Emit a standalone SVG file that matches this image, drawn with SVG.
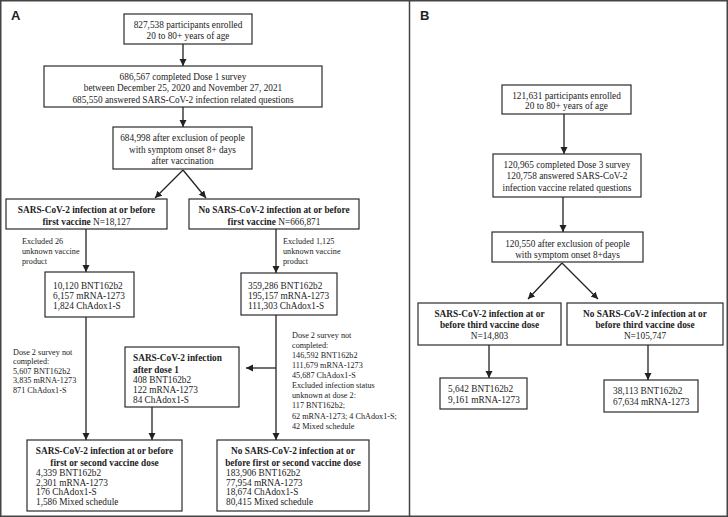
<svg xmlns="http://www.w3.org/2000/svg" width="728" height="517" viewBox="0 0 728 517">
<style>
.bx{fill:#fff;stroke:#2b2b2b;stroke-width:1.2}
.t{font-family:"Liberation Serif","Times New Roman",serif;font-size:9.3px;fill:#222}
.s{font-family:"Liberation Serif","Times New Roman",serif;font-size:8.2px;fill:#222}
.c{text-anchor:middle}
.b{font-weight:bold}
.lbl{font-family:"Liberation Sans",Arial,sans-serif;font-size:13px;font-weight:bold;fill:#222}
.ln{stroke:#222;stroke-width:1.3;fill:none;marker-end:url(#ah)}
</style>
<defs>
<marker id="ah" markerUnits="userSpaceOnUse" markerWidth="8" markerHeight="8" refX="7" refY="3.5" orient="auto">
<path d="M0,0 L7,3.5 L0,7 z" fill="#222"/>
</marker>
</defs>
<rect x="0" y="0" width="728" height="517" fill="#fff"/>
<rect x="0.75" y="0.75" width="726.5" height="515.5" fill="none" stroke="#444" stroke-width="1.5"/>
<line x1="409.5" y1="0" x2="409.5" y2="517" stroke="#444" stroke-width="1.5"/>
<text class="lbl" x="11" y="20">A</text>
<text class="lbl" x="420" y="20">B</text>

<g id="connectors">
<line class="ln" x1="183" y1="44" x2="183" y2="66"/>
<line class="ln" x1="183" y1="107" x2="183" y2="127"/>
<line class="ln" x1="183" y1="170" x2="155" y2="198"/>
<line class="ln" x1="183" y1="170" x2="206" y2="198"/>
<line class="ln" x1="86" y1="229" x2="86" y2="272"/>
<line class="ln" x1="276" y1="229" x2="276" y2="273"/>
<line class="ln" x1="86" y1="317" x2="86" y2="440"/>
<line class="ln" x1="152" y1="407" x2="152" y2="440"/>
<line class="ln" x1="276" y1="315" x2="276" y2="440"/>
<line class="ln" x1="276" y1="368" x2="246" y2="368"/>
<line class="ln" x1="564" y1="114" x2="564" y2="154"/>
<line class="ln" x1="563" y1="197" x2="563" y2="232"/>
<line class="ln" x1="562" y1="263" x2="528" y2="299"/>
<line class="ln" x1="562" y1="263" x2="598" y2="299"/>
<line class="ln" x1="489" y1="345" x2="489" y2="378"/>
<line class="ln" x1="648" y1="345" x2="648" y2="380"/>
</g>

<g id="a-enrolled">
<rect class="bx" x="124" y="14" width="128" height="30"/>
<text class="t c" x="188" y="28">827,538 participants enrolled</text>
<text class="t c" x="188" y="38.5">20 to 80+ years of age</text>
</g>
<g id="a-dose1">
<rect class="bx" x="44" y="66" width="278" height="41"/>
<text class="t c" x="183" y="79.5">686,567 completed Dose 1 survey</text>
<text class="t c" x="183" y="91">between December 25, 2020 and November 27, 2021</text>
<text class="t c" x="183" y="102.5">685,550 answered SARS-CoV-2 infection related questions</text>
</g>
<g id="a-excl">
<rect class="bx" x="113" y="127" width="139" height="42"/>
<text class="t c" x="182.5" y="141">684,998 after exclusion of people</text>
<text class="t c" x="182.5" y="152.5">with symptom onset 8+ days</text>
<text class="t c" x="182.5" y="163.5">after vaccination</text>
</g>
<g id="a-inf">
<rect class="bx" x="6" y="199" width="161" height="30"/>
<text class="t c b" x="86.5" y="212.5">SARS-CoV-2 infection at or before</text>
<text class="t c" x="86.5" y="224.5"><tspan class="b">first vaccine</tspan> N=18,127</text>
</g>
<g id="a-noinf">
<rect class="bx" x="189" y="199" width="170" height="30"/>
<text class="t c b" x="274" y="212.5">No SARS-CoV-2 infection at or before</text>
<text class="t c" x="274" y="224.5"><tspan class="b">first vaccine</tspan> N=666,871</text>
</g>
<g id="a-excl-left">
<text class="s" x="22" y="244">Excluded 26</text>
<text class="s" x="22" y="254">unknown vaccine</text>
<text class="s" x="22" y="264">product</text>
</g>
<g id="a-excl-right">
<text class="s" x="283" y="244">Excluded 1,125</text>
<text class="s" x="283" y="254">unknown vaccine</text>
<text class="s" x="283" y="264">product</text>
</g>
<g id="a-inf-prod">
<rect class="bx" x="45" y="272" width="89" height="45"/>
<text class="t" x="53" y="288.5">10,120 BNT162b2</text>
<text class="t" x="53" y="298.8">6,157 mRNA-1273</text>
<text class="t" x="53" y="309">1,824 ChAdox1-S</text>
</g>
<g id="a-noinf-prod">
<rect class="bx" x="241" y="273" width="96" height="42"/>
<text class="t" x="248" y="288.5">359,286 BNT162b2</text>
<text class="t" x="248" y="298.8">195,157 mRNA-1273</text>
<text class="t" x="248" y="309">111,303 ChAdox1-S</text>
</g>
<g id="a-dose2-left">
<text class="s" x="13" y="354.5">Dose 2 survey not</text>
<text class="s" x="13" y="364">completed:</text>
<text class="s" x="13" y="373.5">5,607 BNT162b2</text>
<text class="s" x="13" y="383">3,835 mRNA-1273</text>
<text class="s" x="13" y="392.5">871 ChAdox1-S</text>
</g>
<g id="a-dose2-right">
<text class="s" x="292" y="338">Dose 2 survey not</text>
<text class="s" x="292" y="348">completed:</text>
<text class="s" x="292" y="358">146,592 BNT162b2</text>
<text class="s" x="292" y="368">111,679 mRNA-1273</text>
<text class="s" x="292" y="378">45,687 ChAdox1-S</text>
<text class="s" x="292" y="388">Excluded infection status</text>
<text class="s" x="292" y="398">unknown at dose 2:</text>
<text class="s" x="292" y="408">117 BNT162b2;</text>
<text class="s" x="292" y="418.5">62 mRNA-1273; 4 ChAdox1-S;</text>
<text class="s" x="292" y="428.5">42 Mixed schedule</text>
</g>
<g id="a-after1">
<rect class="bx" x="125" y="347" width="114" height="60"/>
<text class="t b" x="133" y="360.5">SARS-CoV-2 infection</text>
<text class="t b" x="133" y="372.5">after dose 1</text>
<text class="t" x="133" y="383">408 BNT162b2</text>
<text class="t" x="133" y="393">122 mRNA-1273</text>
<text class="t" x="133" y="402.6">84 ChAdox1-S</text>
</g>
<g id="a-inf-final">
<rect class="bx" x="27" y="440" width="155" height="71"/>
<text class="t c b" x="104.5" y="453.5">SARS-CoV-2 infection at or before</text>
<text class="t c b" x="104.5" y="465.5">first or second vaccine dose</text>
<text class="t" x="36" y="476">4,339 BNT162b2</text>
<text class="t" x="36" y="485.5">2,301 mRNA-1273</text>
<text class="t" x="36" y="495">176 ChAdox1-S</text>
<text class="t" x="36" y="504.5">1,586 Mixed schedule</text>
</g>
<g id="a-noinf-final">
<rect class="bx" x="217" y="440" width="152" height="71"/>
<text class="t c b" x="293" y="453.5">No SARS-CoV-2 infection at or</text>
<text class="t c b" x="293" y="465.5">before first or second vaccine dose</text>
<text class="t" x="226" y="476">183,906 BNT162b2</text>
<text class="t" x="226" y="485.5">77,954 mRNA-1273</text>
<text class="t" x="226" y="495">18,674 ChAdox1-S</text>
<text class="t" x="226" y="504.5">80,415 Mixed schedule</text>
</g>

<g id="b-enrolled">
<rect class="bx" x="502" y="85" width="129" height="29"/>
<text class="t c" x="566.5" y="98.5">121,631 participants enrolled</text>
<text class="t c" x="566.5" y="108.8">20 to 80+ years of age</text>
</g>
<g id="b-dose3">
<rect class="bx" x="493" y="154" width="148" height="43"/>
<text class="t c" x="567" y="167.5">120,965 completed Dose 3 survey</text>
<text class="t c" x="567" y="179">120,758 answered SARS-CoV-2</text>
<text class="t c" x="567" y="190.5">infection vaccine related questions</text>
</g>
<g id="b-excl">
<rect class="bx" x="492" y="232" width="151" height="30"/>
<text class="t c" x="567.5" y="246.5">120,550 after exclusion of people</text>
<text class="t c" x="567.5" y="258">with symptom onset 8+days</text>
</g>
<g id="b-inf">
<rect class="bx" x="418" y="303" width="143" height="42"/>
<text class="t c b" x="489.5" y="316.5">SARS-CoV-2 infection at or</text>
<text class="t c b" x="489.5" y="327.5">before third vaccine dose</text>
<text class="t c" x="489.5" y="338.5">N=14,803</text>
</g>
<g id="b-noinf">
<rect class="bx" x="567" y="303" width="156" height="42"/>
<text class="t c b" x="645" y="316.5">No SARS-CoV-2 infection at or</text>
<text class="t c b" x="645" y="327.5">before third vaccine dose</text>
<text class="t c" x="645" y="338.5">N=105,747</text>
</g>
<g id="b-inf-prod">
<rect class="bx" x="440" y="378" width="87" height="31"/>
<text class="t" x="448" y="391.5">5,642 BNT162b2</text>
<text class="t" x="448" y="402.5">9,161 mRNA-1273</text>
</g>
<g id="b-noinf-prod">
<rect class="bx" x="604" y="380" width="94" height="32"/>
<text class="t" x="613" y="393.5">38,113 BNT162b2</text>
<text class="t" x="613" y="404.5">67,634 mRNA-1273</text>
</g>
</svg>
